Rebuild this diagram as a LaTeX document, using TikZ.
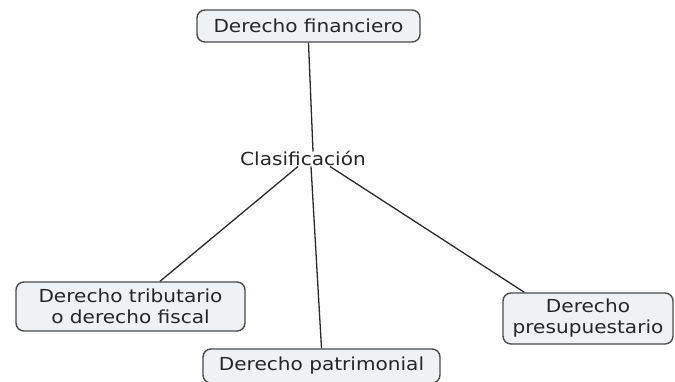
\documentclass[tikz,border=0pt]{standalone}
\usepackage{fontspec}
\setmainfont[FakeStretch=1.12]{DejaVu Sans}
\usetikzlibrary{calc}
\definecolor{boxfill}{HTML}{EEF2F5}
\definecolor{boxline}{HTML}{4A4A4A}
\definecolor{linkc}{HTML}{2A2A2A}
\definecolor{txt}{HTML}{262626}
\tikzset{
  concept/.style={draw=boxline, line width=1.4pt, fill=boxfill, rounded corners=8pt,
    inner sep=0pt, align=center, text=txt, font=\fontsize{18}{21}\selectfont},
  link/.style={draw=linkc, line width=1.3pt},
  label/.style={inner sep=1pt, text=txt, font=\fontsize{18}{21}\selectfont}
}
\begin{document}
\begin{tikzpicture}[x=1bp,y=-1bp]
\useasboundingbox (0,0) rectangle (675,381);
\clip (0,0) rectangle (675,381);
\node[concept, minimum width=223bp, minimum height=32bp] (top) at (308.5,26) {Derecho financiero};
\node[label] (clas) at (303,158) {Clasificación};
\node[concept, minimum width=229bp, minimum height=49bp] (lb) at (130.5,306.5) {Derecho tributario\\o derecho fiscal};
\node[concept, minimum width=237bp, minimum height=34bp] (bb) at (321.5,366) {Derecho patrimonial};
\node[concept, minimum width=170bp, minimum height=51bp] (rb) at (588,318.5) {Derecho\\presupuestario};
\draw[link] (top.south) -- ($(clas.north)+(10,2)$);
\draw[link] ($(clas.south)+(-5,0)$) -- ($(lb.north)+(29.5,0)$);
\draw[link] ($(clas.south)+(8,0)$) -- (bb.north);
\draw[link] ($(clas.south)+(27,0)$) -- ($(rb.north west)+(22,0)$);
\end{tikzpicture}
\end{document}
